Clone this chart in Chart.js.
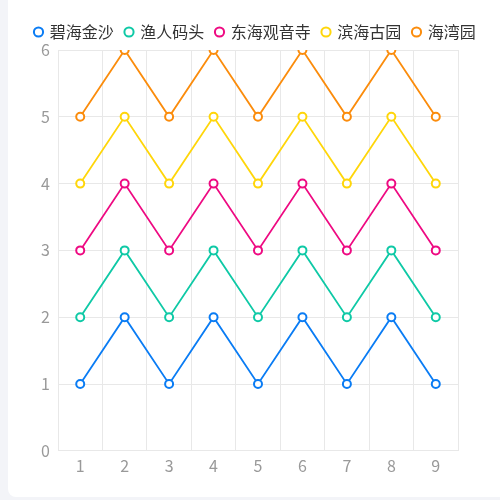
<!DOCTYPE html>
<html>
<head>
<meta charset="utf-8">
<script src="https://cdn.jsdelivr.net/npm/chart.js@4"></script>
<style>
  html, body { margin: 0; padding: 0; background: #f3f4f8; width: 500px; height: 500px; overflow: hidden; }
  #card { position: absolute; left: 8px; top: -8px; width: 520px; height: 505px; background: #fff; border-radius: 8px; }
  #wrap { position: absolute; left: 0; top: 0; width: 500px; height: 500px; }
</style>
</head>
<body>
<div id="card"></div>
<div id="wrap"><canvas id="myChart"></canvas></div>
<script>
var ctx = document.getElementById('myChart').getContext('2d');

const labels = ['1', '2', '3', '4', '5', '6', '7', '8', '9'];
const names = ['碧海金沙', '渔人码头', '东海观音寺', '滨海古园', '海湾园'];
const bihai = [1, 2, 1, 2, 1, 2, 1, 2, 1];
const yuren = [2, 3, 2, 3, 2, 3, 2, 3, 2];
const donghai = [3, 4, 3, 4, 3, 4, 3, 4, 3];
const binhai = [4, 5, 4, 5, 4, 5, 4, 5, 4];
const haiwan = [5, 6, 5, 6, 5, 6, 5, 6, 5];
const colors = ['#0a7cf4', '#0fc9a6', '#ee0a82', '#ffd60a', '#fb8c0c'];

const series = [bihai, yuren, donghai, binhai, haiwan];

var myChart = new Chart(ctx, {
    type: 'line',
    data: {
        labels: labels,
        datasets: series.map(function (d, i) {
            return {
                label: names[i],
                data: d,
                borderColor: colors[i],
                backgroundColor: '#fff',
                pointBackgroundColor: '#fff',
                pointBorderColor: colors[i],
                pointRadius: 4,
                pointBorderWidth: 2,
                borderWidth: 1.8,
                tension: 0
            };
        })
    },
    options: {
        responsive: true,
        maintainAspectRatio: false,
        animation: false,
        layout: { padding: { left: 22, right: 11, top: 12, bottom: 18 } },
        plugins: {
            legend: {
                labels: {
                    usePointStyle: true,
                    pointStyle: 'circle',
                    boxWidth: 6.5,
                    boxHeight: 6.5,
                    padding: 12,
                    color: '#333',
                    font: { family: 'Noto Sans CJK SC', size: 16 }
                }
            },
            tooltip: { enabled: false }
        },
        scales: {
            x: {
                offset: true,
                grid: { color: '#e8e8e8', drawTicks: false, offset: true },
                border: { color: '#e8e8e8' },
                ticks: { color: '#999', padding: 6, font: { family: 'Noto Sans CJK SC', size: 16 } }
            },
            y: {
                min: 0,
                max: 6,
                grid: { color: '#e8e8e8', drawTicks: false },
                border: { color: '#e8e8e8' },
                ticks: { stepSize: 1, color: '#999', padding: 8, font: { family: 'Noto Sans CJK SC', size: 16 } },
                afterFit: function (scale) { scale.width = 36; }
            },
            // empty right-hand axis, only reserves space like the reference
            yRight: {
                position: 'right',
                min: 0,
                max: 6,
                grid: { display: false },
                border: { display: false },
                ticks: { display: false },
                afterFit: function (scale) { scale.width = 31; }
            }
        }
    }
});
</script>
</body>
</html>
